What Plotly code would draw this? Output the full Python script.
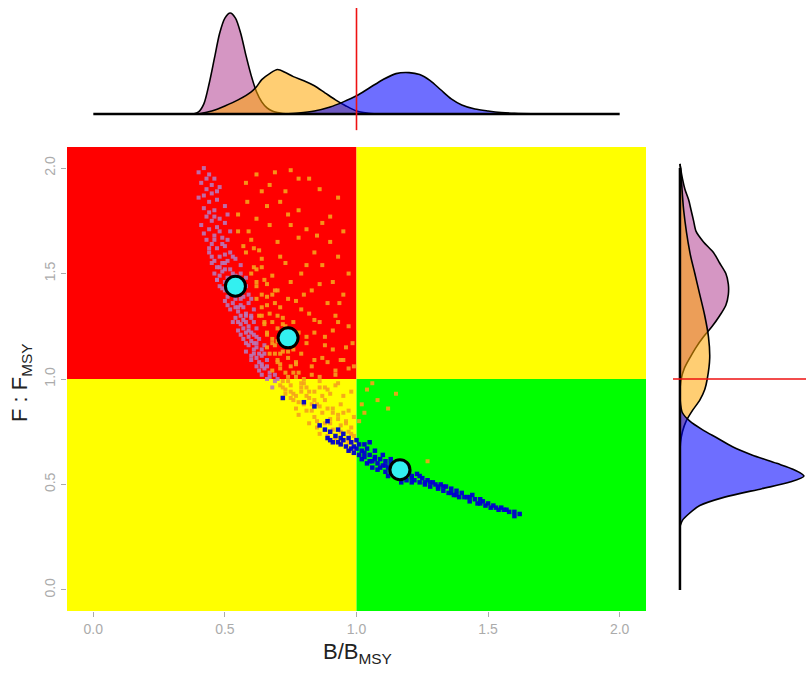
import plotly.graph_objects as go

W, H = 806, 675

# ---------------- data ----------------
# Mean points (B/Bmsy, F/Fmsy)
mean_b = [0.54, 0.74, 1.165]
mean_f = [1.44, 1.195, 0.57]

# Pink cloud
pink_b = [0.42,0.44,0.41,0.46,0.43,0.45,0.48,0.40,0.44,0.47,0.42,0.46,0.50,0.43,0.45,0.48,0.41,0.44,0.47,0.50,0.46,0.43,0.49,0.52,
          0.45,0.47,0.50,0.44,0.48,0.52,0.46,0.50,0.54,0.47,0.49,0.52,0.56,0.48,0.51,0.54,0.50,0.53,0.57,0.49,0.52,0.55,0.58,0.51,0.54,0.57,0.53,0.56,0.59,0.52,0.55,0.58,0.61,
          0.54,0.57,0.60,0.56,0.59,0.62,0.55,0.58,0.61,0.57,0.60,0.63,0.59,0.62,0.65,0.58,0.61,0.64,0.60,0.63,0.66,0.62,0.65,0.67,0.64,0.66,0.69,0.68,
          0.46,0.50,0.53,0.55,0.50,0.56,0.60,0.53,0.57,0.59,0.61,0.63,0.55,0.48,0.45,0.47,0.49,0.51,0.53,0.56,0.58,0.60,0.62,0.64,
          0.40,0.43,0.45,0.47,0.42,0.44,0.46,0.42,0.48,0.51,0.44,0.46,0.49,0.51,
          0.45,0.48,0.51,0.53,0.47,0.50,0.52,0.56,0.58,0.50,0.53,0.57,0.59,0.54,0.57,0.60,
          0.55,0.58,0.61,0.56,0.59,0.62,0.58,0.61,0.64,0.60,0.62,0.65,0.63,0.66,0.64,0.67,0.70,0.69]
pink_f = [2.00,1.97,1.93,1.95,1.90,1.88,1.91,1.86,1.84,1.85,1.81,1.80,1.82,1.77,1.75,1.76,1.73,1.71,1.72,1.74,1.68,1.66,1.67,1.70,
          1.64,1.62,1.63,1.60,1.58,1.60,1.56,1.55,1.57,1.53,1.51,1.52,1.54,1.49,1.48,1.49,1.46,1.45,1.47,1.43,1.41,1.42,1.44,1.39,1.38,1.39,1.36,1.35,1.36,1.33,1.32,1.31,1.33,
          1.29,1.28,1.29,1.26,1.25,1.24,1.23,1.22,1.21,1.19,1.18,1.19,1.16,1.15,1.16,1.13,1.12,1.11,1.09,1.08,1.09,1.06,1.05,1.03,1.02,1.00,0.99,0.96,
          1.50,1.59,1.50,1.45,1.52,1.38,1.30,1.27,1.24,1.20,1.14,1.12,1.34,1.44,1.58,1.47,1.55,1.35,1.43,1.30,1.27,1.22,1.17,1.06,
          1.98,1.95,1.92,1.89,1.87,1.79,1.77,1.69,1.70,1.78,1.62,1.66,1.64,1.66,
          1.55,1.53,1.56,1.58,1.47,1.42,1.47,1.50,1.48,1.37,1.40,1.42,1.40,1.34,1.34,1.38,
          1.27,1.30,1.27,1.21,1.23,1.20,1.17,1.17,1.14,1.11,1.10,1.12,1.04,1.06,1.07,1.01,1.00,1.02]

# Orange cloud
orange_b = [0.62,0.69,0.78,0.82,0.67,0.64,0.73,0.585,0.78,0.90,0.71,0.62,0.67,0.75,0.81,0.85,0.60,0.70,0.90,0.63,0.71,0.81,0.87,0.91,
            0.64,0.68,0.75,0.62,0.83,0.77,0.89,0.935,0.66,0.71,0.82,0.86,0.91,0.64,0.68,0.81,0.96,0.985,0.91,0.87,0.66,0.71,0.77,0.83,0.92,0.68,0.73,
            0.60,0.62,0.64,0.66,0.63,0.65,0.67,0.69,0.66,0.68,0.70,0.72,0.67,0.69,0.71,0.73,0.75,0.70,0.72,0.74,0.76,0.78,0.71,0.74,0.77,0.79,0.81,
            0.72,0.75,0.78,0.80,0.84,0.73,0.76,0.79,0.82,0.86,0.89,0.75,0.78,0.81,0.84,0.88,0.92,0.95,0.77,0.80,0.83,0.86,0.90,0.93,0.97,
            0.71,0.74,0.77,0.80,0.83,0.86,0.89,0.92,0.95,0.98,0.73,0.76,0.79,0.82,0.85,0.88,0.91,0.94,0.97,0.78,0.81,0.84,0.87,0.90,0.93,0.96,0.99,
            0.82,0.85,0.88,0.91,0.94,0.97,0.86,0.89,0.92,0.95,0.98,1.06,1.15,1.02,1.01,1.27,0.58,0.61,0.65,0.69,0.74,0.79,0.84,0.70,0.88,0.93,0.55,0.57,
            0.58,0.75,0.86,0.93,0.55,0.66,0.74,0.87,0.95,0.59,0.78,0.84,0.93,0.97,0.73,0.79,0.86,0.95,0.70,0.80,0.92,0.97,0.76,0.84,0.88,0.94,0.99,
            0.62,0.64,0.65,0.66,0.68,0.69,0.70,0.71,0.72,0.74,0.75,0.76,0.70,0.72,0.68,0.66,0.64,0.62,0.61,
            0.72,0.75,0.77,0.79,0.81,0.84,0.86,0.87,0.89,0.91,0.93,0.95,0.96,0.98,0.99,0.97,0.94,0.90,0.85,0.83,
            1.04,1.08,1.03,1.12]
orange_f = [1.97,1.98,1.95,1.95,1.92,1.89,1.89,1.84,1.80,1.77,1.84,1.76,1.73,1.73,1.71,1.68,1.66,1.65,1.65,1.61,1.58,1.54,1.54,1.46,
            1.53,1.49,1.46,1.46,1.42,1.37,1.36,1.36,1.39,1.34,1.31,1.27,1.23,1.30,1.27,1.20,1.15,1.17,1.14,1.10,1.15,1.12,1.08,1.06,1.04,1.04,1.03,
            1.50,1.44,1.40,1.35,1.30,1.26,1.31,1.36,1.22,1.19,1.24,1.29,1.12,1.16,1.21,1.25,1.18,1.08,1.13,1.10,1.14,1.22,1.05,1.01,1.07,1.12,1.17,
            0.99,0.97,1.03,1.00,1.09,0.95,0.93,0.96,0.94,1.01,1.08,0.91,0.89,0.92,0.90,0.96,1.02,1.09,0.86,0.88,0.85,0.87,0.93,0.98,1.05,
            0.97,0.99,1.01,0.98,1.02,0.99,0.95,0.97,0.92,0.94,0.93,0.90,0.94,0.91,0.88,0.90,0.86,0.88,0.85,0.83,0.85,0.82,0.84,0.81,0.83,0.80,0.82,
            0.79,0.77,0.79,0.76,0.78,0.75,0.74,0.73,0.72,0.71,0.74,0.98,0.93,0.88,0.80,0.61,1.60,1.53,1.47,1.42,1.38,1.33,1.28,1.18,1.20,1.27,1.70,1.63,
            1.93,1.99,1.90,1.86,1.78,1.82,1.78,1.74,1.70,1.70,1.67,1.60,1.58,1.50,1.55,1.50,1.45,1.40,1.42,1.40,1.30,1.25,1.27,1.22,1.16,1.09,1.06,
            1.38,1.34,1.27,1.21,1.17,1.12,1.09,1.07,1.16,1.13,1.06,1.03,1.30,1.26,1.40,1.45,1.57,1.52,1.62,
            0.96,0.94,0.92,0.98,0.96,0.94,0.96,0.92,0.86,0.84,0.81,0.84,0.79,0.77,0.73,0.70,0.75,0.79,0.80,0.88,
            0.95,0.90,0.84,0.86]

# Blue cloud
blue_b = [0.88,0.90,0.92,0.89,0.93,0.95,0.94,0.97,0.96,0.98,1.00,0.99,1.01,1.02,1.03,1.04,1.05,1.06,1.04,1.07,1.08,1.09,1.10,1.08,1.11,1.12,1.13,1.12,1.14,1.15,
          1.18,1.20,1.19,1.21,1.22,1.23,1.24,1.25,1.26,1.27,1.28,1.29,1.30,1.31,1.32,1.33,1.34,1.35,1.36,1.37,1.38,1.39,1.40,1.42,1.43,1.44,1.45,1.46,1.48,1.49,
          1.50,1.52,1.53,1.55,1.57,1.58,1.60,1.62,1.10,1.06,1.15,1.17,0.91,0.86,0.72,0.80,0.84,0.89,0.97,1.02,1.13,1.05,
          0.94,0.99,1.03,1.07,1.11,1.16,1.21,1.26,1.31,1.36,1.41,1.47,1.54,
          0.90,0.93,0.95,0.98,1.00,1.01,1.03,1.05,1.07,1.09,1.11,1.13,1.19,1.21,1.24,1.28,1.33,1.38,1.43,1.47,1.51,1.56,1.60]
blue_f = [0.76,0.75,0.73,0.72,0.76,0.71,0.69,0.72,0.68,0.70,0.67,0.65,0.69,0.66,0.63,0.67,0.64,0.61,0.60,0.63,0.60,0.62,0.59,0.57,0.61,0.58,0.56,0.54,0.59,0.55,
          0.54,0.56,0.52,0.54,0.52,0.55,0.51,0.53,0.50,0.52,0.49,0.51,0.50,0.48,0.50,0.47,0.49,0.46,0.48,0.45,0.47,0.44,0.46,0.44,0.42,0.45,0.43,0.41,0.42,0.40,
          0.41,0.40,0.39,0.39,0.38,0.37,0.37,0.36,0.64,0.58,0.60,0.51,0.70,0.78,0.91,0.89,0.87,0.80,0.66,0.62,0.62,0.70,
          0.72,0.68,0.65,0.62,0.59,0.56,0.53,0.51,0.49,0.46,0.44,0.41,0.38,
          0.71,0.70,0.74,0.67,0.71,0.64,0.69,0.61,0.66,0.58,0.56,0.60,0.57,0.51,0.54,0.51,0.49,0.45,0.44,0.43,0.39,0.38,0.35]

# Marginal densities of B/Bmsy (top panel)
pink_db_x = [0.38,0.40,0.42,0.44,0.46,0.48,0.50,0.52,0.54,0.56,0.58,0.60,0.62,0.64,0.66,0.68,0.70,0.72,0.75]
pink_db_y = [0,2,10,30,55,80,95,100,95,80,58,38,22,12,6,3,1.5,0.5,0]
orange_db_x = [0.40,0.45,0.50,0.55,0.60,0.62,0.64,0.67,0.70,0.73,0.76,0.80,0.84,0.88,0.92,0.96,1.00,1.04,1.08]
orange_db_y = [0,3,8,14,22,27,34,40,44,41,37,33,28,21,14,8,3,1,0]
blue_db_x = [0.72,0.78,0.84,0.90,0.95,1.00,1.05,1.10,1.15,1.20,1.24,1.28,1.32,1.36,1.40,1.45,1.50,1.55,1.60,1.70]
blue_db_y = [0,1,3,7,12,18,26,34,40,41,39,33,24,15,9,5,3,1.5,0.7,0]

# Marginal densities of F/Fmsy (right panel)
pink_df_y = [0.95,1.00,1.05,1.10,1.15,1.20,1.25,1.30,1.35,1.40,1.45,1.50,1.55,1.60,1.65,1.70,1.75,1.80,1.85,1.90,1.95,2.00,2.02]
pink_df_x = [0,1,3.5,8,13,19,26,32,37,39,39,37,32,27,19,13,11,9,7,4,2,0.5,0]
orange_df_y = [0.65,0.70,0.75,0.80,0.85,0.90,0.95,1.00,1.10,1.20,1.30,1.40,1.50,1.60,1.80,2.00,2.02]
orange_df_x = [0,0.5,2,5,10,16,20,22,24,23,20,16,12,8,3,0.5,0]
blue_df_y = [0.30,0.33,0.36,0.40,0.44,0.48,0.51,0.54,0.57,0.60,0.64,0.68,0.72,0.76,0.80,0.84,0.88,0.92]
blue_df_x = [0,2,7,16,36,66,88,100,92,78,58,42,30,18,8,2,0.5,0]

x_ticks = [0.0, 0.5, 1.0, 1.5, 2.0]
y_ticks = [0.0, 0.5, 1.0, 1.5, 2.0]
tick_text = ["0.0", "0.5", "1.0", "1.5", "2.0"]

# ---------------- styling ----------------
RED, YELLOW, GREEN = "#FF0000", "#FFFF00", "#00FF00"
PINK_PT, ORANGE_PT, BLUE_PT = "#B877B8", "#F5A21C", "#0000CD"
PINK_FILL = "rgba(185,80,155,0.6)"
ORANGE_FILL = "rgba(255,165,0,0.55)"
BLUE_FILL = "rgba(0,0,255,0.57)"
FONT = "Liberation Sans, Arial, sans-serif"

fig = go.Figure()

# main scatter clouds
fig.add_trace(go.Scatter(x=pink_b, y=pink_f, mode="markers", xaxis="x", yaxis="y",
                         marker=dict(symbol="square", size=4, color=PINK_PT, opacity=0.9, line=dict(width=0)),
                         showlegend=False, hoverinfo="skip"))
fig.add_trace(go.Scatter(x=orange_b, y=orange_f, mode="markers", xaxis="x", yaxis="y",
                         marker=dict(symbol="square", size=4, color=ORANGE_PT, opacity=0.9, line=dict(width=0)),
                         showlegend=False, hoverinfo="skip"))
fig.add_trace(go.Scatter(x=blue_b, y=blue_f, mode="markers", xaxis="x", yaxis="y",
                         marker=dict(symbol="square", size=4.5, color=BLUE_PT, opacity=0.95, line=dict(width=0)),
                         showlegend=False, hoverinfo="skip"))
fig.add_trace(go.Scatter(x=mean_b, y=mean_f, mode="markers", xaxis="x", yaxis="y",
                         marker=dict(size=20, color="#33F0F0", line=dict(width=3, color="black")),
                         showlegend=False, hoverinfo="skip"))

# top densities
for xs, ys, fc in [(pink_db_x, pink_db_y, PINK_FILL), (orange_db_x, orange_db_y, ORANGE_FILL), (blue_db_x, blue_db_y, BLUE_FILL)]:
    fig.add_trace(go.Scatter(x=xs, y=ys, mode="lines", fill="tozeroy", fillcolor=fc,
                             line=dict(color="black", width=1.6, shape="spline", smoothing=0.8),
                             xaxis="x2", yaxis="y2", showlegend=False, hoverinfo="skip"))
fig.add_trace(go.Scatter(x=[0, 2], y=[0, 0], mode="lines", line=dict(color="black", width=2.5),
                         xaxis="x2", yaxis="y2", showlegend=False, hoverinfo="skip"))

# right densities
for xs, ys, fc in [(pink_df_x, pink_df_y, PINK_FILL), (orange_df_x, orange_df_y, ORANGE_FILL), (blue_df_x, blue_df_y, BLUE_FILL)]:
    fig.add_trace(go.Scatter(x=xs, y=ys, mode="lines", fill="tozerox", fillcolor=fc,
                             line=dict(color="black", width=1.6, shape="spline", smoothing=0.8),
                             xaxis="x3", yaxis="y3", showlegend=False, hoverinfo="skip"))
fig.add_trace(go.Scatter(x=[0, 0], y=[0, 2], mode="lines", line=dict(color="black", width=2.5),
                         xaxis="x3", yaxis="y3", showlegend=False, hoverinfo="skip"))

REF = 1.0
LO, HI = -0.1, 2.1
shapes = [
    dict(type="rect", xref="x", yref="y", x0=LO, x1=REF, y0=REF, y1=HI, fillcolor=RED, line_width=0, layer="below"),
    dict(type="rect", xref="x", yref="y", x0=REF, x1=HI, y0=REF, y1=HI, fillcolor=YELLOW, line_width=0, layer="below"),
    dict(type="rect", xref="x", yref="y", x0=LO, x1=REF, y0=LO, y1=REF, fillcolor=YELLOW, line_width=0, layer="below"),
    dict(type="rect", xref="x", yref="y", x0=REF, x1=HI, y0=LO, y1=REF, fillcolor=GREEN, line_width=0, layer="below"),
    dict(type="line", xref="x2", yref="y2", x0=REF, x1=REF, y0=-16, y1=105, line=dict(color="#EE1111", width=1.6)),
    dict(type="line", xref="paper", yref="y3", x0=673 / W, x1=1.0, y0=REF, y1=REF, line=dict(color="#EE1111", width=1.6)),
]

tickfont = dict(family=FONT, size=14, color="#ABABAB")
fig.update_layout(
    width=W, height=H, margin=dict(l=0, r=0, t=0, b=0),
    paper_bgcolor="white", plot_bgcolor="white",
    font=dict(family=FONT),
    shapes=shapes,
    xaxis=dict(domain=[67 / W, 646 / W], range=[LO, HI], anchor="y", showgrid=False, zeroline=False,
               tickvals=x_ticks, ticktext=tick_text, ticks="outside", ticklen=5, tickcolor="#ABABAB",
               tickwidth=1, tickfont=tickfont, showline=False),
    yaxis=dict(domain=[1 - 611 / H, 1 - 147 / H], range=[LO, HI], anchor="x", showgrid=False, zeroline=False,
               tickvals=y_ticks, ticktext=tick_text, ticks="outside", ticklen=5, tickcolor="#ABABAB",
               tickwidth=1, tickfont=tickfont, tickangle=-90, showline=False),
    xaxis2=dict(domain=[67 / W, 646 / W], range=[LO, HI], anchor="y2", visible=False),
    yaxis2=dict(domain=[1 - 135 / H, 1.0], range=[-20.8, 112.9], anchor="x2", visible=False),
    xaxis3=dict(domain=[673 / W, 1.0], range=[-5.6, 101.6], anchor="y3", visible=False),
    yaxis3=dict(domain=[1 - 611 / H, 1 - 147 / H], range=[LO, HI], anchor="x3", visible=False),
    annotations=[
        dict(text="B/B<sub>MSY</sub>", xref="paper", yref="paper", x=357 / W, y=1 - 653 / H,
             showarrow=False, font=dict(family=FONT, size=22, color="#222222"), xanchor="center", yanchor="middle"),
        dict(text="F : F<sub>MSY</sub>", xref="paper", yref="paper", x=21 / W, y=1 - 383 / H, textangle=-90,
             showarrow=False, font=dict(family=FONT, size=22, color="#222222"), xanchor="center", yanchor="middle"),
    ],
)

fig.write_html("out.html", config={"displayModeBar": False},
               post_script="document.body.style.margin='0px';")
